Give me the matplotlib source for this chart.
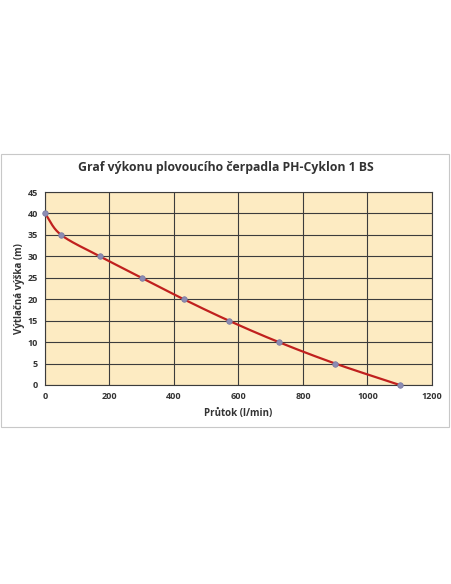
import matplotlib
matplotlib.use('Agg')
import matplotlib.pyplot as plt
from matplotlib.patches import Rectangle
import numpy as np

# data
prutok = [0, 50, 170, 300, 430, 570, 725, 900, 1100]
vyska = [40, 35, 30, 25, 20, 15, 10, 5, 0]
x_ticks = [0, 200, 400, 600, 800, 1000, 1200]
y_ticks = [0, 5, 10, 15, 20, 25, 30, 35, 40, 45]

plt.rcParams['font.family'] = ['Open Sans', 'DejaVu Sans']


def smooth_line(xs, ys, n=30):
    # catmull-rom through the points, like Excel's smoothed line
    px = np.array(xs, dtype=float)
    py = np.array(ys, dtype=float)
    px = np.concatenate([[2 * px[0] - px[1]], px, [2 * px[-1] - px[-2]]])
    py = np.concatenate([[2 * py[0] - py[1]], py, [2 * py[-1] - py[-2]]])
    out_x, out_y = [], []
    t = np.linspace(0, 1, n)
    for i in range(1, len(px) - 2):
        for arr, out in ((px, out_x), (py, out_y)):
            p0, p1, p2, p3 = arr[i - 1], arr[i], arr[i + 1], arr[i + 2]
            out.extend(0.5 * ((2 * p1) + (-p0 + p2) * t
                              + (2 * p0 - 5 * p1 + 4 * p2 - p3) * t ** 2
                              + (-p0 + 3 * p1 - 3 * p2 + p3) * t ** 3))
    return out_x, out_y


fig = plt.figure(figsize=(4.52, 5.84), dpi=100)
fig.patch.set_facecolor('white')

# chart frame
fig.patches.append(Rectangle((1 / 452, 1 - 427 / 584), 448 / 452, 273 / 584,
                             transform=fig.transFigure, fill=False,
                             edgecolor='#c8c8c8', linewidth=0.8))

ax = fig.add_axes([45 / 452, 1 - 385 / 584, 387 / 452, 193 / 584])
ax.set_facecolor('#fdebc2')

sx, sy = smooth_line(prutok, vyska)
ax.plot(sx, sy, color='#c0201e', linewidth=1.6, zorder=3)
ax.plot(prutok, vyska, linestyle='none', marker='o', markersize=4,
        markerfacecolor='#8c8cb4', markeredgecolor='#7878a0',
        markeredgewidth=0.5, zorder=4, clip_on=False)

ax.set_xlim(0, 1200)
ax.set_ylim(0, 45)
ax.set_xticks(x_ticks)
ax.set_yticks(y_ticks)
ax.grid(True, color='#3c3c3c', linewidth=0.8)
ax.set_axisbelow(True)
for s in ax.spines.values():
    s.set_color('#3c3c3c')
    s.set_linewidth(0.8)
ax.tick_params(length=0, labelsize=6.5, pad=5)
for lab in ax.get_xticklabels() + ax.get_yticklabels():
    lab.set_fontweight('bold')
    lab.set_color('#333333')

ax.set_xlabel('Průtok (l/min)', fontsize=7, fontweight='bold', color='#333333', labelpad=5)
ax.set_ylabel('Výtlačná výška (m)', fontsize=7, fontweight='bold', color='#333333', labelpad=2)

fig.text(0.5, 1 - 168 / 584, 'Graf výkonu plovoucího čerpadla PH-Cyklon 1 BS',
         ha='center', va='center', fontsize=8.8, fontweight='bold', color='#333333')

fig.savefig('out.png', dpi=100, facecolor='white')
